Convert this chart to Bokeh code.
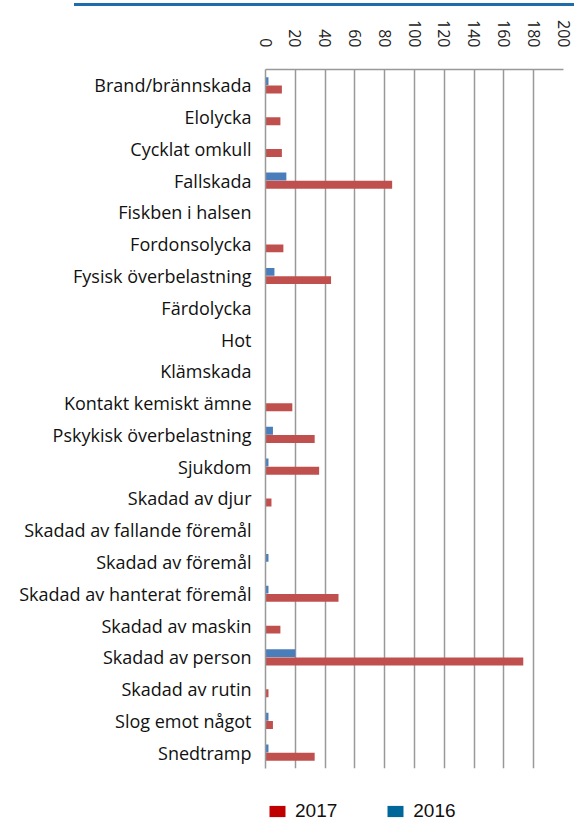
import math
from bokeh.plotting import figure
from bokeh.layouts import column
from bokeh.models import (FactorRange, Range1d, Legend, LegendItem, Div,
                          ColumnDataSource)
from bokeh.transform import dodge
from bokeh.embed import file_html
from bokeh.resources import INLINE

categories = ["Brand/brännskada", "Elolycka", "Cycklat omkull", "Fallskada",
              "Fiskben i halsen", "Fordonsolycka", "Fysisk överbelastning",
              "Färdolycka", "Hot", "Klämskada", "Kontakt kemiskt ämne",
              "Pskykisk överbelastning", "Sjukdom", "Skadad av djur",
              "Skadad av fallande föremål", "Skadad av föremål",
              "Skadad av hanterat föremål", "Skadad av maskin",
              "Skadad av person", "Skadad av rutin", "Slog emot något",
              "Snedtramp"]
values_2017 = [11, 10, 11, 85, 0, 12, 44, 0, 0, 0, 18, 33, 36, 4, 0, 0, 49, 10, 173, 2, 5, 33]
values_2016 = [2, 0, 0, 14, 0, 0, 6, 0, 0, 0, 0, 5, 2, 0, 0, 2, 2, 0, 20, 0, 2, 2]
series_names = ["2017", "2016"]
x_ticks = list(range(0, 201, 20))

BAR_RED = "#C0504D"
BAR_BLUE = "#4A7EBB"
LEG_RED = "#C00000"
LEG_BLUE = "#00679A"

src = ColumnDataSource(dict(cat=categories, v17=values_2017, v16=values_2016))

p = figure(width=574, height=764, output_backend="svg", toolbar_location=None,
           y_range=FactorRange(factors=categories[::-1], range_padding=0),
           x_range=Range1d(0, 200), x_axis_location="above",
           min_border_left=265, min_border_right=11, min_border_top=63,
           min_border_bottom=2)
p.outline_line_color = None
p.background_fill_color = "white"
p.border_fill_color = "white"

p.hbar(y=dodge("cat", 0.13, range=p.y_range), right="v16", left=0, height=0.25,
       source=src, fill_color=BAR_BLUE, line_color=None)
p.hbar(y=dodge("cat", -0.13, range=p.y_range), right="v17", left=0, height=0.25,
       source=src, fill_color=BAR_RED, line_color=None)

# top axis
xa = p.xaxis[0]
xa.ticker = x_ticks
xa.major_label_orientation = -math.pi / 2
xa.major_label_text_font = "Open Sans"
xa.major_label_text_font_size = "16px"
xa.major_label_text_color = "#222222"
xa.major_label_standoff = 16
xa.major_tick_line_color = None
xa.minor_tick_line_color = None
xa.axis_line_color = "#999999"
xa.axis_line_width = 1.5

ya = p.yaxis[0]
ya.major_label_text_font = "Open Sans"
ya.major_label_text_font_size = "18px"
ya.major_label_text_color = "#111111"
ya.major_label_standoff = 8
ya.major_tick_line_color = None
ya.minor_tick_line_color = None
ya.axis_line_color = "#999999"
ya.axis_line_width = 1.5

p.xgrid.ticker = x_ticks
p.xgrid.grid_line_color = "#999999"
p.xgrid.grid_line_width = 1.5
p.ygrid.grid_line_color = None

# legend in its own strip below the chart
lf = figure(width=574, height=55, output_backend="svg", toolbar_location=None,
            x_range=Range1d(0, 1), y_range=Range1d(0, 1),
            min_border_left=265, min_border_right=11, min_border_top=0,
            min_border_bottom=1, x_axis_type=None, y_axis_type=None)
lf.outline_line_color = None
lf.xgrid.visible = False
lf.ygrid.visible = False
r17 = lf.rect(x=[-10], y=[-10], width=1, height=1, fill_color=LEG_RED, line_color=None)
r16 = lf.rect(x=[-10], y=[-10], width=1, height=1, fill_color=LEG_BLUE, line_color=None)
legend = Legend(items=[LegendItem(label=series_names[0], renderers=[r17]),
                       LegendItem(label=series_names[1], renderers=[r16])],
                orientation="horizontal", location="bottom_left",
                glyph_width=20, glyph_height=14, label_standoff=8, spacing=48,
                padding=0, margin=2, border_line_color=None,
                background_fill_alpha=0,
                label_text_font="Liberation Sans", label_text_font_size="19px",
                label_text_color="#111111")
lf.add_layout(legend, "center")

header = Div(text="", width=500, height=3, margin=(3, 0, 0, 74),
             styles={"background-color": "#1F6CAB"})

layout = column(header, p, lf, spacing=0)
open("out.html", "w").write(file_html(layout, INLINE))
